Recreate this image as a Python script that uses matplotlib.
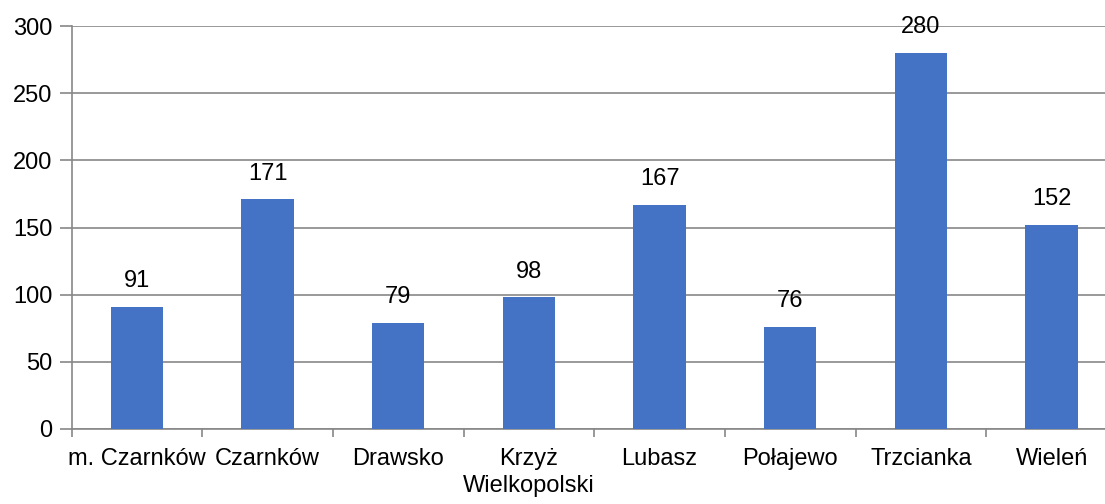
import matplotlib
matplotlib.use("Agg")
import matplotlib.pyplot as plt

gminy = ["m. Czarnków", "Czarnków", "Drawsko", "Krzyż\nWielkopolski",
         "Lubasz", "Połajewo", "Trzcianka", "Wieleń"]
wartosci = [91, 171, 79, 98, 167, 76, 280, 152]
y_ticks = [0, 50, 100, 150, 200, 250, 300]

plt.rcParams['font.family'] = ['Liberation Sans Narrow', 'Liberation Sans', 'DejaVu Sans']

fig = plt.figure(figsize=(11.05, 5.04), dpi=100)
# the plot area runs past the right edge of the picture, as in the source
ax = fig.add_axes([0.0648, 0.149, 0.946, 0.799])

x = list(range(len(gminy)))
ax.bar(x, wartosci, width=0.4, color="#4472C4", zorder=3)
for xi, v in zip(x, wartosci):
    ax.text(xi, v + 11, str(v), ha="center", va="bottom", fontsize=17, zorder=4)

ax.set_xlim(-0.5, len(gminy) - 0.5)
ax.set_ylim(0, 300)
ax.set_yticks(y_ticks)
ax.set_yticklabels([str(t) for t in y_ticks], fontsize=17)
ax.yaxis.grid(True, color="#878787", linewidth=1.2, zorder=0)
ax.tick_params(axis="y", length=9, color="#878787", width=1.2, pad=5)

# category ticks sit between the bars, labels in the middle
ax.set_xticks([i - 0.5 for i in range(len(gminy) + 1)])
ax.set_xticklabels([])
ax.set_xticks(x, minor=True)
ax.set_xticklabels(gminy, minor=True, fontsize=17, linespacing=1.25)
ax.tick_params(axis="x", which="major", length=6, color="#878787", width=1.2)
ax.tick_params(axis="x", which="minor", length=0, pad=14)

for s in ["top", "right"]:
    ax.spines[s].set_visible(False)
for s in ["left", "bottom"]:
    ax.spines[s].set_color("#878787")
    ax.spines[s].set_linewidth(1.2)

fig.savefig("out.png", dpi=100)
